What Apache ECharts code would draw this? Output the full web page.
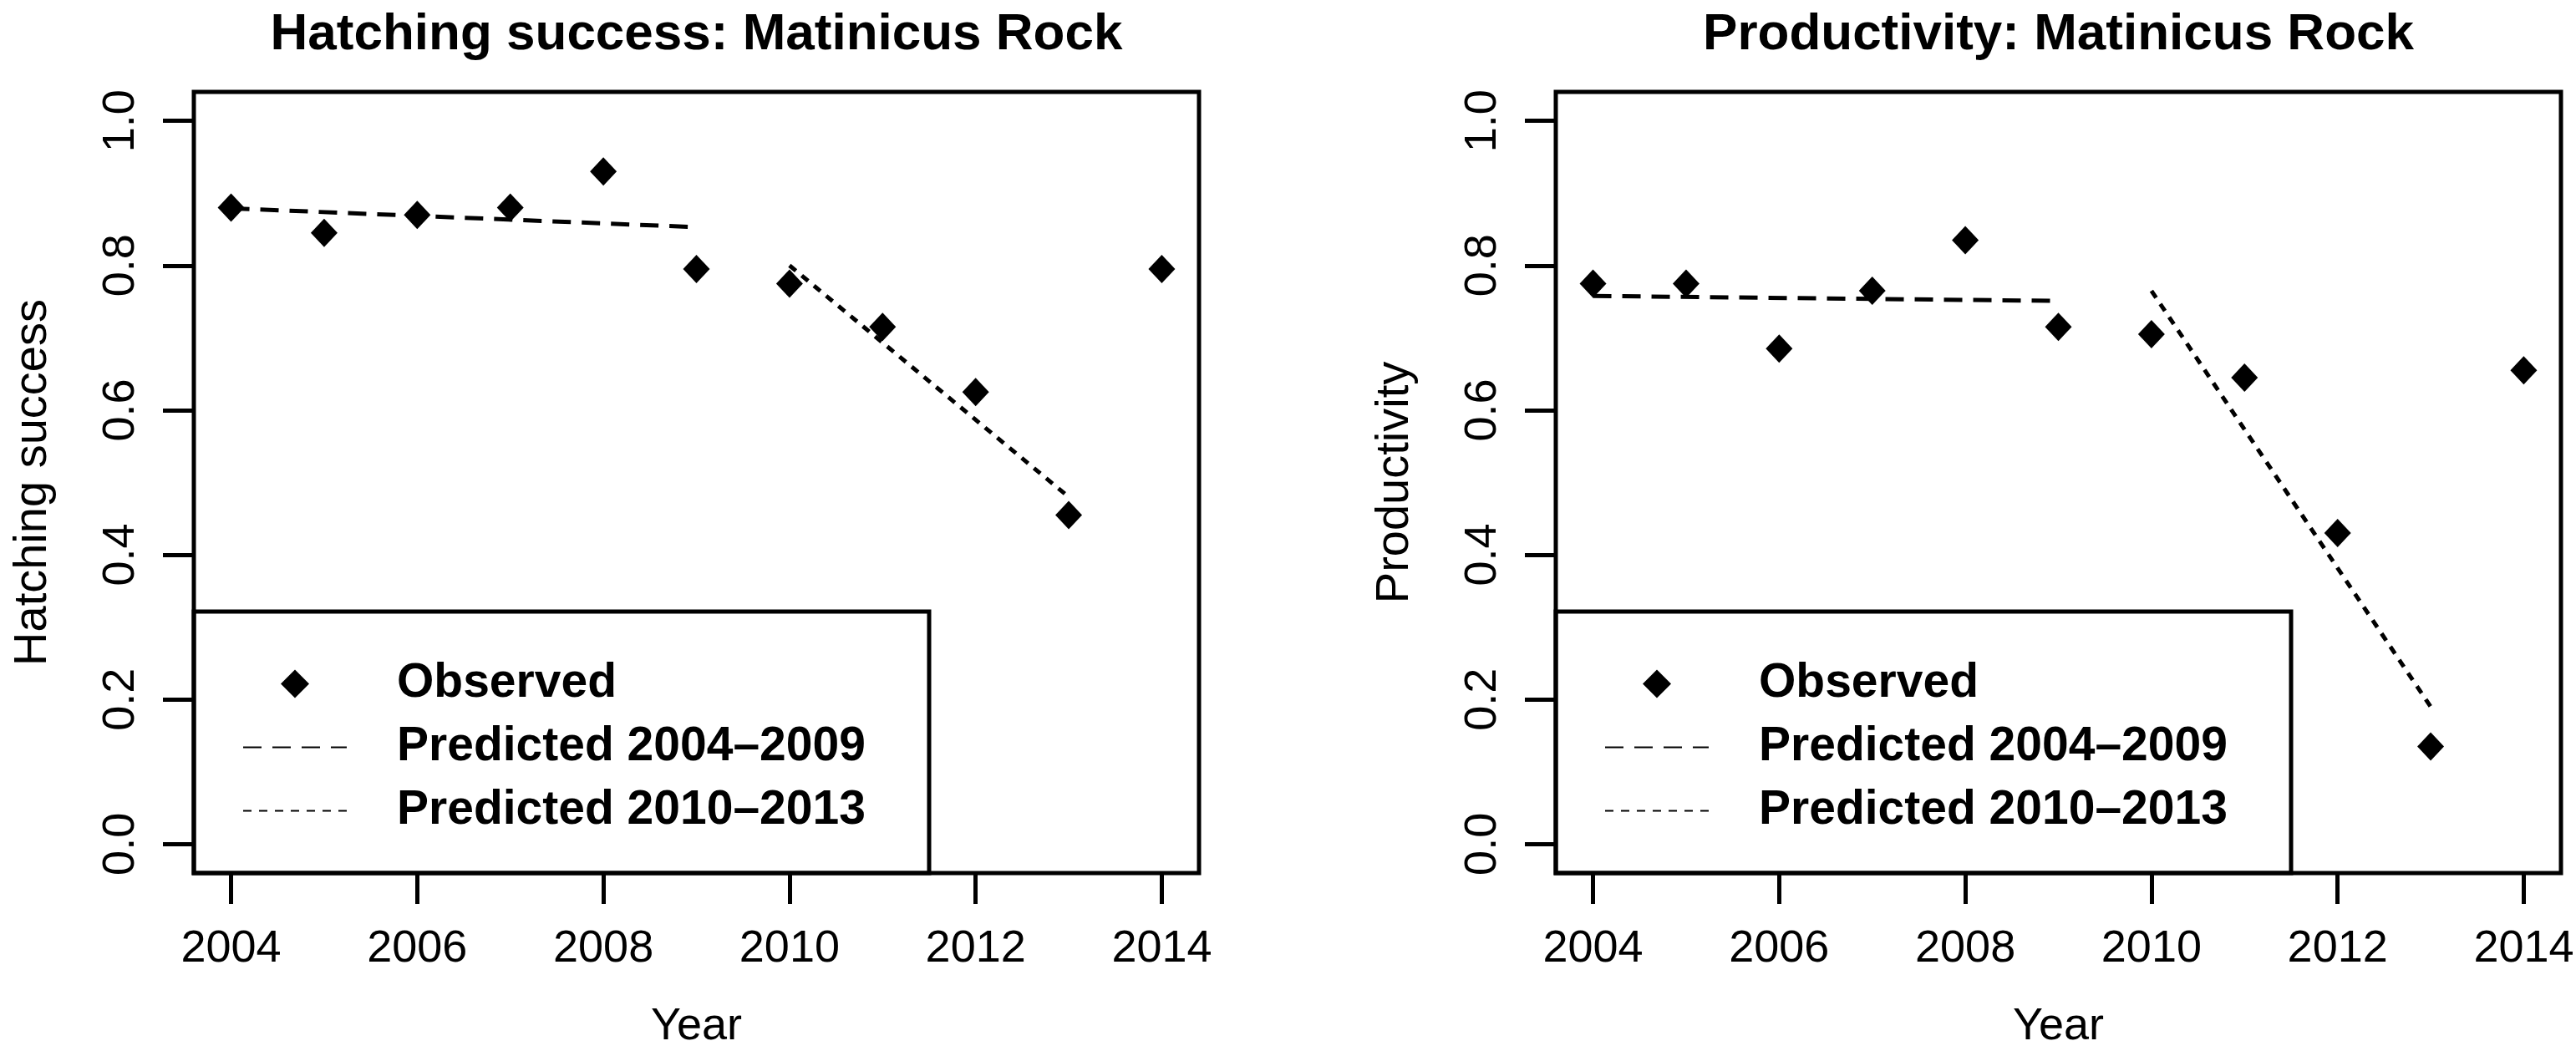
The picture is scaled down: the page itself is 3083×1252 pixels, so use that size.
<!DOCTYPE html>
<html><head><meta charset="utf-8">
<script src="https://cdn.jsdelivr.net/npm/echarts@6/dist/echarts.min.js"></script>
<style>html,body{margin:0;padding:0;background:#fff}#c{width:3083px;height:1252px}</style>
</head><body><div id="c"></div>
<script>
// ---- data ----
const years = [2004, 2005, 2006, 2007, 2008, 2009, 2010, 2011, 2012, 2013, 2014];
const hatchObserved = [0.88, 0.845, 0.87, 0.88, 0.93, 0.795, 0.775, 0.715, 0.625, 0.455, 0.795];
const hatchPred0409 = [[2004, 0.879], [2009, 0.853]];
const hatchPred1013 = [[2010, 0.80], [2013, 0.48]];
const prodObserved = [0.775, 0.775, 0.685, 0.765, 0.835, 0.715, 0.705, 0.645, 0.43, 0.135, 0.655];
const prodPred0409 = [[2004, 0.758], [2009, 0.751]];
const prodPred1013 = [[2010, 0.765], [2013, 0.19]];
const xTicks = [2004, 2006, 2008, 2010, 2012, 2014];
const yTicks = [0, 0.2, 0.4, 0.6, 0.8, 1.0];
const panelTitles = ['Hatching success: Matinicus Rock', 'Productivity: Matinicus Rock'];
const yNames = ['Hatching success', 'Productivity'];
const xName = 'Year';
const legendNames = ['Observed', 'Predicted 2004\u20132009', 'Predicted 2010\u20132013'];

// ---- layout / style ----
const FONT = '"Liberation Sans", Arial, Helvetica, sans-serif';
const gridLefts = [232, 1862];
const gridTop = 110, gridW = 1203, gridH = 935;
const DASH = [22, 13], DOT = [10, 9];
const DIAMOND = 'path://M0,-1L1,0L0,1L-1,0Z';

const chart = echarts.init(document.getElementById('c'), null, {renderer: 'canvas'});

const observed = [hatchObserved, prodObserved];
const pred1 = [hatchPred0409, prodPred0409];
const pred2 = [hatchPred1013, prodPred1013];
const noSym = {color: 'rgba(0,0,0,0)', borderWidth: 0, borderColor: 'rgba(0,0,0,0)'};

const grids = [], xAxes = [], yAxes = [], series = [], legends = [], graphics = [];
for (let p = 0; p < 2; p++) {
  grids.push({left: gridLefts[p], top: gridTop, width: gridW, height: gridH,
    outerBoundsMode: 'none', containLabel: false,
    show: true, borderColor: '#000', borderWidth: 5, backgroundColor: 'transparent'});
  xAxes.push({gridIndex: p, type: 'value', min: 2003.6, max: 2014.4,
    axisLine: {show: false, onZero: false}, splitLine: {show: false},
    axisTick: {show: true, customValues: xTicks, length: 37, lineStyle: {color: '#000', width: 5}},
    axisLabel: {customValues: xTicks, margin: 64, fontSize: 54, lineHeight: 54, color: '#000', fontFamily: FONT,
      formatter: v => String(v)},
    name: xName, nameLocation: 'middle', nameGap: 157,
    nameTextStyle: {fontSize: 54, lineHeight: 54, color: '#000', fontFamily: FONT}});
  yAxes.push({gridIndex: p, type: 'value', min: -0.04, max: 1.04,
    axisLine: {show: false, onZero: false}, splitLine: {show: false},
    axisTick: {show: true, customValues: yTicks, length: 37, lineStyle: {color: '#000', width: 5}},
    axisLabel: {customValues: yTicks, rotate: 90, margin: 60, fontSize: 54, lineHeight: 54, color: '#000', fontFamily: FONT,
      formatter: v => Number(v).toFixed(1)},
    name: yNames[p], nameLocation: 'middle', nameGap: 164, nameRotate: 90,
    nameTextStyle: {fontSize: 56, lineHeight: 56, color: '#000', fontFamily: FONT}});
  series.push({type: 'scatter', name: legendNames[0], xAxisIndex: p, yAxisIndex: p,
    data: years.map((y, i) => [y, observed[p][i]]),
    symbol: DIAMOND, symbolSize: [32, 34], itemStyle: {color: '#000', opacity: 1}});
  series.push({type: 'line', name: legendNames[1], xAxisIndex: p, yAxisIndex: p,
    data: pred1[p], symbol: 'none', color: '#000',
    lineStyle: {color: '#000', width: 5, type: DASH}});
  series.push({type: 'line', name: legendNames[2], xAxisIndex: p, yAxisIndex: p,
    data: pred2[p], symbol: 'none', color: '#000',
    lineStyle: {color: '#000', width: 5, type: DOT}});
  legends.push({
    data: [
      {name: legendNames[0], icon: DIAMOND},
      {name: legendNames[1], itemStyle: noSym},
      {name: legendNames[2], itemStyle: noSym}
    ],
    orient: 'vertical', left: gridLefts[p] + 58, top: 790,
    padding: 0, itemGap: 19, itemWidth: 124, itemHeight: 34, selectedMode: false,
    symbolKeepAspect: true,
    textStyle: {fontSize: 57, fontWeight: 'bold', color: '#000', fontFamily: FONT, lineHeight: 40, padding: [0, 0, 0, 55]}});
  graphics.push({type: 'rect', shape: {x: gridLefts[p], y: 732, width: 880, height: gridTop + gridH - 732},
    style: {fill: 'none', stroke: '#000', lineWidth: 5}, z: 10, silent: true});
  graphics.push({type: 'text', x: gridLefts[p] + gridW / 2, y: 42, silent: true,
    style: {text: panelTitles[p], fontSize: 62, fontWeight: 'bold', fontFamily: FONT,
      fill: '#000', align: 'center', verticalAlign: 'middle'}});
}

chart.setOption({
  animation: false,
  backgroundColor: '#fff',
  grid: grids, xAxis: xAxes, yAxis: yAxes, series: series, legend: legends,
  graphic: graphics
});
</script></body></html>
